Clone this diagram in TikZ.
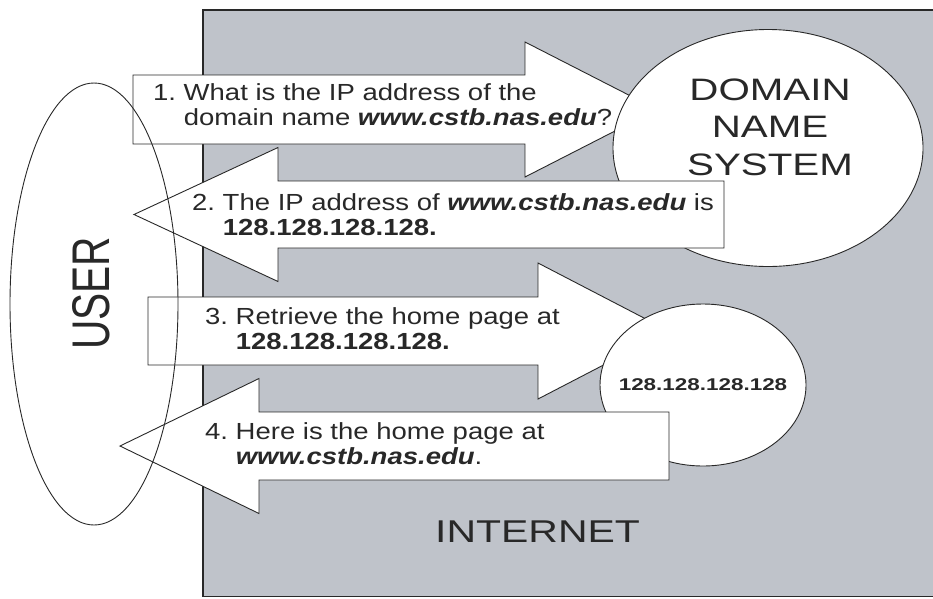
\documentclass[tikz,border=0pt]{standalone}
\usepackage{fontspec}
\usetikzlibrary{shapes.geometric}
\setmainfont{Liberation Sans}
\newfontfamily\bodyfont[FakeStretch=1.18]{Liberation Sans}
\newfontfamily\bigfont[FakeStretch=1.3]{Liberation Sans}
\newfontfamily\numfont[FakeStretch=1.32]{Liberation Sans}
\newfontfamily\userfont[FakeStretch=0.767]{Liberation Sans}
\definecolor{netgray}{RGB}{191,195,202}
\definecolor{ink}{RGB}{40,40,40}
\newcommand{\site}{\textbf{\textit{www.cstb.nas.edu}}}
\begin{document}
\begin{tikzpicture}[x=1pt,y=-1pt,
  outline/.style={draw=ink, line width=0.9pt},
  bigarrow/.style={outline, fill=white, line join=miter},
  msg/.style={inner sep=0pt, anchor=base west, text=ink,
    font=\bodyfont\fontsize{23.3}{25.5}\selectfont},
  cloud/.style={ellipse, outline, fill=white, inner sep=0pt},
  bigtext/.style={inner sep=0pt, text=ink, font=\bigfont\fontsize{31}{37.5}\selectfont}
]
\useasboundingbox (0,0) rectangle (933,598);
% the Internet region
\fill[netgray] (203,10) rectangle (934,597);
\draw[draw=ink, line width=1.2pt] (934,10) -- (203,10) -- (203,596.5) -- (934,596.5);
% user (fill only, outline later)
\node[ellipse, fill=white, inner sep=0pt, minimum width=168pt, minimum height=442pt] (user) at (94,304) {};
% arrow 1
\draw[bigarrow] (133,75) -- (525,75) -- (525,42) -- (657,109.5) -- (525,177) -- (525,144) -- (133,144) -- cycle;
% DNS
\node[cloud, minimum width=310pt, minimum height=237pt] (dns) at (768,148) {};
% arrow 2
\draw[bigarrow] (724,181) -- (278,181) -- (278,147.5) -- (134,214.5) -- (278,281.5) -- (278,248) -- (724,248) -- cycle;
% arrow 3
\draw[bigarrow] (148,297) -- (538,297) -- (538,263) -- (669,331) -- (538,399) -- (538,365) -- (148,365) -- cycle;
% server
\node[cloud, minimum width=206pt, minimum height=162pt] (server) at (703,385) {};
% arrow 4
\draw[bigarrow] (669,412) -- (259,412) -- (259,378.5) -- (120,446) -- (259,513.5) -- (259,480) -- (669,480) -- cycle;
% user outline
\draw[outline] (user.center) ellipse [x radius=84pt, y radius=221pt];
% texts
\node[msg] (m1) at (153,100) {\begin{tabular}[t]{@{}l@{}l@{}}\mbox{1.\ }&What is the IP address of the\\ &domain name \site?\end{tabular}};
\node[msg] (m2) at (192,210) {\begin{tabular}[t]{@{}l@{}l@{}}\mbox{2.\ }&The IP address of \site{} is\\ &\textbf{128.128.128.128.}\end{tabular}};
\node[msg] (m3) at (205,324) {\begin{tabular}[t]{@{}l@{}l@{}}\mbox{3.\ }&Retrieve the home page at\\ &\textbf{128.128.128.128.}\end{tabular}};
\node[msg] (m4) at (205,439) {\begin{tabular}[t]{@{}l@{}l@{}}\mbox{4.\ }&Here is the home page at\\ &\site.\end{tabular}};
\node[bigtext, anchor=base] (dnstext) at (770,100) {\begin{tabular}[t]{@{}c@{}}DOMAIN\\ NAME\\ SYSTEM\end{tabular}};
\node[inner sep=0pt, anchor=base, text=ink, font=\numfont\bfseries\fontsize{17}{20}\selectfont] (iptext) at (703,390) {128.128.128.128};
\node[inner sep=0pt, anchor=base west, text=ink, font=\bigfont\fontsize{31.5}{38}\selectfont] (internet) at (435,542) {INTERNET};
\node[inner sep=0pt, rotate=90, text=ink, font=\userfont\fontsize{53}{60}\selectfont] (usertext) at (91,293.5) {USER};
\end{tikzpicture}
\end{document}
